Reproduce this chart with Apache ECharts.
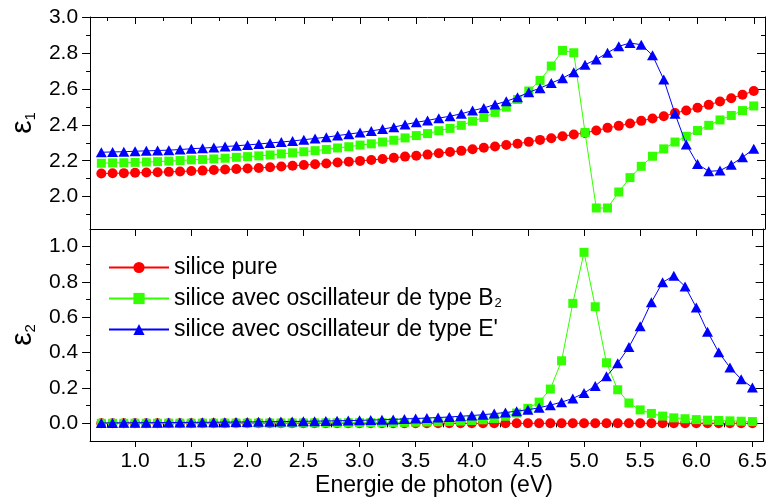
<!DOCTYPE html>
<html><head><meta charset="utf-8">
<script src="https://cdn.jsdelivr.net/npm/echarts@6/dist/echarts.min.js"></script>
<style>html,body{margin:0;padding:0;background:#fff}#c{width:770px;height:501px}</style>
</head><body><div id="c"></div>
<script>
const energy = [0.7,0.8,0.9,1.0,1.1,1.2,1.3,1.4,1.5,1.6,1.7,1.8,1.9,2.0,2.1,2.2,2.3,2.4,2.5,2.6,2.7,2.8,2.9,3.0,3.1,3.2,3.3,3.4,3.5,3.6,3.7,3.8,3.9,4.0,4.1,4.2,4.3,4.4,4.5,4.6,4.7,4.8,4.9,5.0,5.1,5.2,5.3,5.4,5.5,5.6,5.7,5.8,5.9,6.0,6.1,6.2,6.3,6.4,6.5];

const eps1Pure = [2.129,2.130,2.131,2.133,2.134,2.136,2.138,2.140,2.143,2.145,
  2.148,2.151,2.154,2.157,2.160,2.164,2.168,2.172,2.176,2.180,
  2.185,2.190,2.195,2.199,2.204,2.210,2.216,2.223,2.228,2.234,
  2.242,2.249,2.255,2.264,2.272,2.279,2.288,2.295,2.305,2.316,
  2.325,2.336,2.346,2.355,2.368,2.383,2.394,2.407,2.422,2.435,
  2.448,2.465,2.480,2.495,2.511,2.530,2.548,2.567,2.588];
const eps1B2 = [2.186,2.188,2.189,2.191,2.193,2.195,2.198,2.201,2.205,2.207,
  2.210,2.214,2.219,2.223,2.227,2.232,2.238,2.244,2.250,2.256,
  2.263,2.271,2.278,2.287,2.294,2.304,2.314,2.327,2.340,2.351,
  2.367,2.380,2.397,2.420,2.441,2.469,2.498,2.541,2.588,2.647,
  2.727,2.814,2.801,2.357,1.937,1.937,2.026,2.106,2.169,2.225,
  2.266,2.304,2.336,2.368,2.397,2.427,2.452,2.479,2.505];
const eps1E = [2.247,2.249,2.250,2.253,2.255,2.257,2.259,2.262,2.267,2.270,
  2.274,2.279,2.283,2.288,2.293,2.299,2.304,2.310,2.317,2.324,
  2.331,2.340,2.348,2.357,2.366,2.376,2.387,2.401,2.414,2.424,
  2.437,2.448,2.461,2.479,2.494,2.513,2.531,2.553,2.581,2.604,
  2.632,2.659,2.693,2.734,2.764,2.801,2.837,2.855,2.846,2.787,
  2.652,2.461,2.291,2.182,2.141,2.145,2.178,2.219,2.266];

const eps2Pure = [0,0,0,0,0,0,0,0,0,0,
  0,0,0,0,0,0,0,0,0,0,
  0,0,0,0,0,0,0,0,0,0,
  0,0,0,0,0,0,0,0,0,0,
  0,0,0,0,0,0,0,0,0,0,
  0,0,0,0,0,0,0,0,0];
const eps2B2 = [0.0003,0.0004,0.0004,0.0005,0.0005,0.0006,0.0007,0.0008,0.0008,0.0009,
  0.001,0.0011,0.0012,0.0012,0.0013,0.0015,0.0016,0.0018,0.002,0.0022,
  0.0024,0.0027,0.003,0.0033,0.0037,0.0042,0.0048,0.0055,0.0064,0.0075,
  0.009,0.011,0.013,0.016,0.02,0.027,0.04,0.058,0.085,0.12,
  0.194,0.354,0.679,0.968,0.66,0.343,0.19,0.115,0.076,0.056,
  0.041,0.031,0.026,0.021,0.018,0.016,0.014,0.012,0.010];
const eps2E = [0.0022,0.0025,0.0029,0.0032,0.0036,0.004,0.0044,0.0048,0.0052,0.0057,
  0.0062,0.0067,0.0072,0.0078,0.0085,0.0091,0.0098,0.0106,0.0115,0.0124,
  0.0134,0.0145,0.0157,0.017,0.0185,0.0201,0.0219,0.025,0.027,0.03,
  0.033,0.036,0.04,0.044,0.049,0.055,0.061,0.069,0.077,0.088,
  0.103,0.12,0.141,0.171,0.212,0.266,0.34,0.432,0.549,0.685,
  0.798,0.836,0.775,0.656,0.519,0.402,0.316,0.25,0.203];

const xLabels = [1.0,1.5,2.0,2.5,3.0,3.5,4.0,4.5,5.0,5.5,6.0,6.5];
const xMinor = [0.75,1.25,1.75,2.25,2.75,3.25,3.75,4.25,4.75,5.25,5.75,6.25];
const y1Labels = [2.0,2.2,2.4,2.6,2.8,3.0];
const y1Minor = [1.9,2.1,2.3,2.5,2.7,2.9];
const y2Labels = [0.0,0.2,0.4,0.6,0.8,1.0];
const y2Minor = [0.1,0.3,0.5,0.7,0.9];
const names = ['silice pure', 'silice avec oscillateur de type B2', "silice avec oscillateur de type E'"];
const xTitle = 'Energie de photon (eV)';

const FONT = '"Liberation Sans", Arial, sans-serif';
const BLACK = '#000';
const colors = ['#ff0000', '#33ff00', '#0000ff'];

const pairs = vals => energy.map((e, i) => [e, vals[i]]);
const fmt1 = v => Number(v).toFixed(1);
const noLine = {show: false};
const line = {show: true, onZero: false, lineStyle: {color: BLACK, width: 1}};
const tick = (vals, inside, len) => ({show: true, customValues: vals, inside: inside, length: len, lineStyle: {color: BLACK, width: 1}});
const lab = (vals, margin) => ({show: true, customValues: vals, formatter: fmt1, fontSize: 21, fontFamily: FONT, color: BLACK, margin: margin});

function X(grid, pos, o) {
  return Object.assign({type: 'value', gridIndex: grid, position: pos, min: 0.6, max: 6.6,
    axisLine: line, axisTick: {show: false}, axisLabel: {show: false}, splitLine: {show: false}}, o);
}
function Y(grid, pos, mn, mx, o) {
  return Object.assign({type: 'value', gridIndex: grid, position: pos, min: mn, max: mx,
    axisLine: line, axisTick: {show: false}, axisLabel: {show: false}, splitLine: {show: false}}, o);
}
const nameStyle = {color: BLACK, fontFamily: FONT, rich: {
  e: {fontSize: 30, fontFamily: FONT, color: BLACK},
  s: {fontSize: 15, fontFamily: FONT, color: BLACK, verticalAlign: 'bottom', padding: [10, 0, 0, 0]}
}};

const symbols = ['circle', 'rect', 'triangle'];
const sizes = [10, 9, [11, 10]];
function mk(i, vals, xi, yi) {
  return {name: names[i], type: 'line', xAxisIndex: xi, yAxisIndex: yi, data: pairs(vals),
    symbol: symbols[i], symbolSize: sizes[i], showSymbol: true,
    lineStyle: {color: colors[i], width: 1}, itemStyle: {color: colors[i]},
    emphasis: {disabled: true}, z: 2 + i};
}

const option = {
  animation: false,
  backgroundColor: '#fff',
  grid: [
    {left: 90, right: 5, top: 17, height: 212},
    {left: 90, right: 5, top: 229, height: 212}
  ],
  xAxis: [
    X(0, 'bottom', {}),
    X(0, 'top', {axisTick: tick(xLabels, true, 7)}),
    X(0, 'top', {axisLine: noLine, axisTick: tick(xMinor, true, 4)}),
    X(1, 'bottom', {axisTick: tick(xLabels, false, 6), axisLabel: lab(xLabels, 10)}),
    X(1, 'bottom', {axisLine: noLine, axisTick: tick(xMinor, false, 3)}),
    X(1, 'top', {axisTick: tick(xLabels, true, 7)}),
    X(1, 'top', {axisLine: noLine, axisTick: tick(xMinor, true, 4)})
  ],
  yAxis: [
    Y(0, 'left', 1.82, 3.0, {axisTick: tick(y1Labels, false, 8), axisLabel: lab(y1Labels, 12),
      name: '{e|ε}{s|1}', nameLocation: 'middle', nameRotate: 90, nameGap: 52, nameTextStyle: nameStyle}),
    Y(0, 'left', 1.82, 3.0, {axisLine: noLine, axisTick: tick(y1Minor, false, 4)}),
    Y(0, 'right', 1.82, 3.0, {axisTick: tick(y1Labels, true, 8)}),
    Y(0, 'right', 1.82, 3.0, {axisLine: noLine, axisTick: tick(y1Minor, true, 4)}),
    Y(1, 'left', -0.1, 1.1, {axisTick: tick(y2Labels, false, 8), axisLabel: lab(y2Labels, 12),
      name: '{e|ε}{s|2}', nameLocation: 'middle', nameRotate: 90, nameGap: 52, nameTextStyle: nameStyle}),
    Y(1, 'left', -0.1, 1.1, {axisLine: noLine, axisTick: tick(y2Minor, false, 4)}),
    Y(1, 'right', -0.1, 1.1, {axisTick: tick(y2Labels, true, 8)}),
    Y(1, 'right', -0.1, 1.1, {axisLine: noLine, axisTick: tick(y2Minor, true, 4)})
  ],
  legend: {
    data: names, orient: 'vertical', left: 103, top: 251, itemWidth: 60, itemHeight: 14, itemGap: 8,
    selectedMode: false,
    formatter: function (n) {
      if (n === names[1]) return '{t|silice avec oscillateur de type B}{s|2}';
      return '{t|' + n + '}';
    },
    textStyle: {fontSize: 23, fontFamily: FONT, color: BLACK, rich: {
      t: {fontSize: 23, fontFamily: FONT, color: BLACK, lineHeight: 23},
      s: {fontSize: 13, fontFamily: FONT, color: BLACK, verticalAlign: 'bottom', padding: [9, 0, 0, 1]}
    }}
  },
  graphic: [
    {type: 'text', x: 434, y: 486, style: {text: xTitle, fontSize: 23, fontFamily: FONT, fill: BLACK,
      align: 'center', verticalAlign: 'middle', textAlign: 'center', textVerticalAlign: 'middle'}}
  ],
  series: [
    mk(0, eps1Pure, 0, 0), mk(1, eps1B2, 0, 0), mk(2, eps1E, 0, 0),
    mk(0, eps2Pure, 3, 4), mk(1, eps2B2, 3, 4), mk(2, eps2E, 3, 4)
  ]
};
const chart = echarts.init(document.getElementById('c'));
chart.setOption(option);
</script>
</body></html>
